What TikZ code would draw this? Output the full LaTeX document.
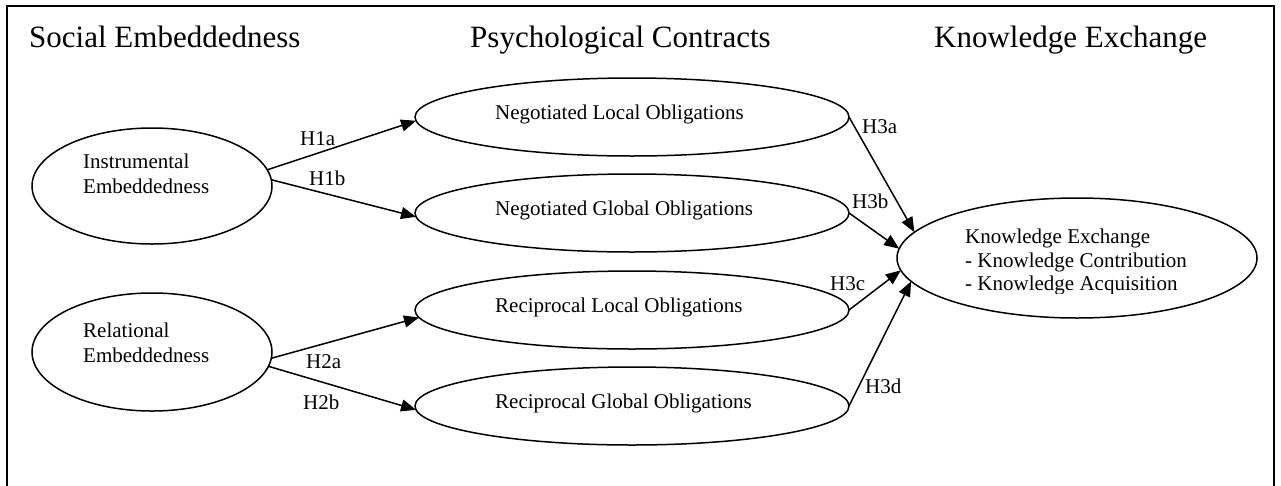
\documentclass[tikz,border=0pt]{standalone}
\usepackage{fontspec}
\setmainfont{Liberation Serif}
\usetikzlibrary{arrows.meta,shapes.geometric}
\begin{document}
\begin{tikzpicture}[x=1pt,y=-1pt,
  ell/.style={ellipse, draw, line width=1.5pt, inner sep=0pt, outer sep=0pt},
  txt/.style={font=\fontsize{21}{24}\selectfont, inner sep=0pt, anchor=base west},
  head/.style={font=\fontsize{31}{36}\selectfont, inner sep=0pt, anchor=base west},
  arr/.style={-{Triangle[length=15pt,width=12pt]}, line width=1.5pt},
  frame/.style={line width=1.1pt}]
\useasboundingbox (0,0) rectangle (1281,485);
\coordinate (fbl) at (7,490);
\coordinate (ftl) at (7,6);
\coordinate (ftr) at (1274,6);
\coordinate (fbr) at (1274,490);
\draw[frame] (fbl) -- (ftl) -- (ftr) -- (fbr);

% headings
\node[head] (h1) at (29,47) {Social Embeddedness};
\node[head] (h2) at (470,47) {Psychological Contracts};
\node[head] (h3) at (934,47) {Knowledge Exchange};

% ellipses
\node[ell, minimum width=240pt, minimum height=116pt] (IE) at (152,186) {};
\node[ell, minimum width=240pt, minimum height=118pt] (RE) at (152,352) {};
\node[ell, minimum width=434pt, minimum height=78pt] (NLO) at (632,117) {};
\node[ell, minimum width=434pt, minimum height=78pt] (NGO) at (632,213) {};
\node[ell, minimum width=434pt, minimum height=78pt] (RLO) at (632,310) {};
\node[ell, minimum width=434pt, minimum height=78pt] (RGO) at (632,406) {};
\node[ell, minimum width=360pt, minimum height=120pt] (KE) at (1077,258) {};

% ellipse texts
\node[txt] (IEa) at (83,168) {Instrumental};
\node[txt] (IEb) at (83,193) {Embeddedness};
\node[txt] (REa) at (83,337) {Relational};
\node[txt] (REb) at (83,362) {Embeddedness};
\node[txt] (NLOt) at (495,119) {Negotiated Local Obligations};
\node[txt] (NGOt) at (495,215) {Negotiated Global Obligations};
\node[txt] (RLOt) at (495,312) {Reciprocal Local Obligations};
\node[txt] (RGOt) at (495,408) {Reciprocal Global Obligations};
\node[txt] (KEa) at (965,243) {Knowledge Exchange};
\node[txt] (KEb) at (965,267) {- Knowledge Contribution};
\begin{scope}
\clip (960,270) rectangle (1200,293);
\node[txt] (KEc) at (965,290) {- Knowledge Acquisition};
\end{scope}

% arrows
\draw[arr] (IE.8) -- (NLO.181);
\draw[arr] (IE.3) -- (NGO.181);
\draw[arr] (RE.-3) -- (RLO.182);
\draw[arr] (RE.-7.5) -- (RGO.181);
\draw[arr] (NLO.east) -- (KE.171);
\draw[arr] (NGO.east) -- (KE.177);
\draw[arr] (RLO.east) -- (KE.184);
\draw[arr] (RGO.east) -- (KE.188);

% labels
\node[txt] (l1a) at (300,145) {H1a};
\node[txt] (l1b) at (309,185) {H1b};
\node[txt] (l2a) at (306,368) {H2a};
\node[txt] (l2b) at (303,409) {H2b};
\node[txt] (l3a) at (862,133) {H3a};
\node[txt] (l3b) at (852,208) {H3b};
\node[txt] (l3c) at (830,290) {H3c};
\node[txt] (l3d) at (865,393) {H3d};
\end{tikzpicture}
\end{document}
